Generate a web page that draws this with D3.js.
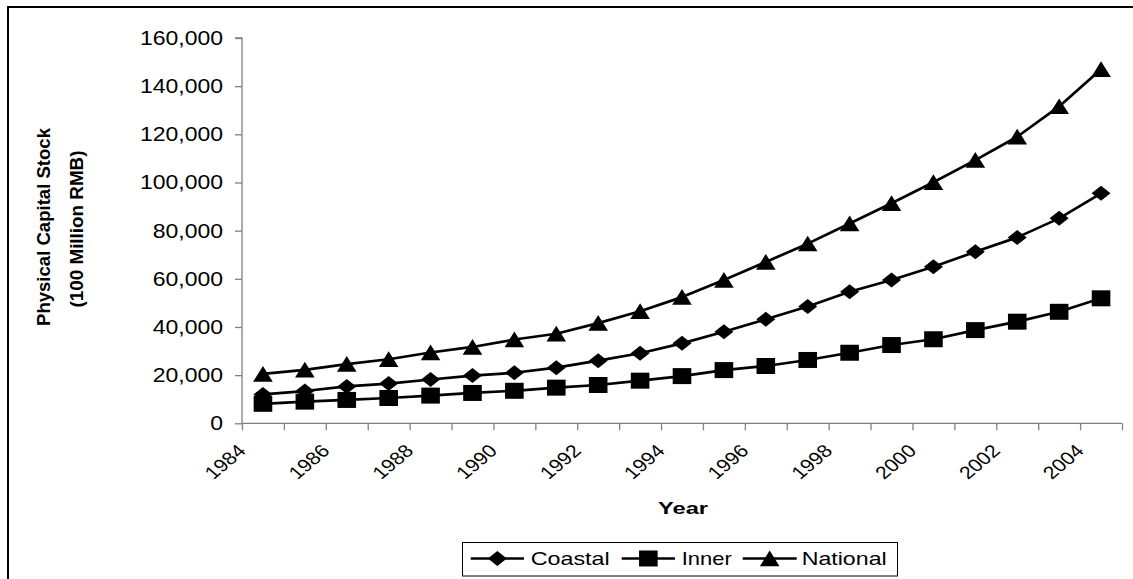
<!DOCTYPE html>
<html>
<head>
<meta charset="utf-8">
<script src="https://cdn.jsdelivr.net/npm/d3@7"></script>
<style>
  html, body { margin: 0; padding: 0; background: #fff; }
  svg { display: block; }
  text { font-family: Arial, "Liberation Sans", sans-serif; fill: #000; }
</style>
</head>
<body>
<svg id="chart" width="1133" height="579"></svg>
<script>
const years = d3.range(1984, 2005);
const yearLabels = ["1984","1986","1988","1990","1992","1994","1996","1998","2000","2002","2004"];
const coastal = [12000, 13400, 15300, 16500, 18200, 19800, 21000, 23100, 26000, 29100, 33200, 38000, 43200, 48500, 54600, 59500, 65000, 71200, 77200, 85100, 95500];
const inner = [8100, 9000, 9700, 10500, 11500, 12600, 13500, 14800, 15900, 17700, 19600, 22100, 23800, 26300, 29300, 32500, 34900, 38700, 42200, 46300, 51900];
const national = [20500, 22200, 24600, 26600, 29400, 31700, 34800, 37200, 41600, 46500, 52400, 59500, 67000, 74600, 83000, 91400, 100100, 109300, 119000, 131600, 147000];
const yTicks = [0, 20000, 40000, 60000, 80000, 100000, 120000, 140000, 160000];
const seriesNames = ["Coastal", "Inner", "National"];
const seriesValues = [coastal, inner, national];

// custom marker shapes (bbox-centred), drawn through d3.symbol
const diamondSym = { draw(ctx) { ctx.moveTo(0, -7.5); ctx.lineTo(9.5, 0); ctx.lineTo(0, 7.5); ctx.lineTo(-9.5, 0); ctx.closePath(); } };
const squareSym = { draw(ctx) { ctx.moveTo(-9.3, -8); ctx.lineTo(9.3, -8); ctx.lineTo(9.3, 8); ctx.lineTo(-9.3, 8); ctx.closePath(); } };
const triangleSym = { draw(ctx) { ctx.moveTo(0, -8); ctx.lineTo(9.8, 7.7); ctx.lineTo(-9.8, 7.7); ctx.closePath(); } };
const seriesSymbols = [diamondSym, squareSym, triangleSym];

const svg = d3.select("#chart");
const L = 242, R = 1122, T = 38, B = 423.3;

// outer border
svg.append("rect").attr("x", 8).attr("y", 7).attr("width", 1150).attr("height", 600)
  .attr("fill", "none").attr("stroke", "#000").attr("stroke-width", 2);

const x = d3.scaleBand().domain(years).range([L, R]).paddingInner(0).paddingOuter(0);
const xEdge = d3.scaleLinear().domain([0, years.length]).range([L, R]);
const y = d3.scaleLinear().domain([0, 160000]).range([B, T]);

// y axis
const yAxis = svg.append("g").attr("transform", `translate(${L},0)`)
  .call(d3.axisLeft(y).tickValues(yTicks).tickSize(7).tickFormat(""));
yAxis.select(".domain").attr("stroke", "#808080").attr("stroke-width", 1.3).attr("d", `M-7,${T}H0V${B}`);
yAxis.selectAll(".tick line").attr("stroke", "#808080").attr("stroke-width", 1.3);

const fmt = d3.format(",");
svg.append("g").selectAll("text").data(yTicks).join("text")
  .attr("text-anchor", "end")
  .attr("font-size", 20)
  .attr("transform", d => `translate(223,${y(d) + 7}) scale(1.15,1)`)
  .text(d => fmt(d));

// x axis
const xAxis = svg.append("g").attr("transform", `translate(0,${B})`)
  .call(d3.axisBottom(xEdge).tickValues(d3.range(years.length + 1)).tickSize(7).tickFormat(""));
xAxis.select(".domain").attr("stroke", "#808080").attr("stroke-width", 1.3).attr("d", `M${L},0H${R}`);
xAxis.selectAll(".tick line").attr("stroke", "#808080").attr("stroke-width", 1.3);

svg.append("g").selectAll("text").data(yearLabels).join("text")
  .attr("text-anchor", "end")
  .attr("font-size", 18)
  .attr("transform", d => `translate(${xEdge(years.indexOf(+d)) + 5},452) scale(1.18,1) rotate(-45)`)
  .text(d => d);

// lines and markers
const cx = i => x(years[i]) + x.bandwidth() / 2;
const line = d3.line().x((d, i) => cx(i)).y(d => y(d));
seriesValues.forEach(vals => {
  svg.append("path").attr("d", line(vals)).attr("fill", "none")
    .attr("stroke", "#000").attr("stroke-width", 2.7).attr("stroke-linejoin", "round");
});
seriesValues.forEach((vals, si) => {
  const sym = d3.symbol().type(seriesSymbols[si]);
  svg.append("g").selectAll("path").data(vals).join("path")
    .attr("d", sym())
    .attr("transform", (d, i) => `translate(${cx(i)},${y(d)})`)
    .attr("fill", "#000");
});

// axis titles
svg.append("text").attr("text-anchor", "middle").attr("font-weight", "bold").attr("font-size", 17)
  .attr("x", 683).attr("y", 513.5).attr("textLength", 50).attr("lengthAdjust", "spacingAndGlyphs")
  .text("Year");

svg.append("text").attr("text-anchor", "middle").attr("font-weight", "bold").attr("font-size", 17.5)
  .attr("transform", "translate(50,227) rotate(-90)")
  .attr("textLength", 198).attr("lengthAdjust", "spacingAndGlyphs")
  .text("Physical Capital Stock");
svg.append("text").attr("text-anchor", "middle").attr("font-weight", "bold").attr("font-size", 17.5)
  .attr("transform", "translate(83,229) rotate(-90)")
  .attr("textLength", 157).attr("lengthAdjust", "spacingAndGlyphs")
  .text("(100 Million RMB)");

// legend
const lg = svg.append("g");
lg.append("rect").attr("x", 462.5).attr("y", 542.5).attr("width", 435).attr("height", 33.5)
  .attr("fill", "#fff").attr("stroke", "#000").attr("stroke-width", 1);
const legendItems = [
  { lx0: 470.7, lx1: 524, tx: 530.7, tl: 79 },
  { lx0: 621.7, lx1: 675, tx: 681.7, tl: 50 },
  { lx0: 742.7, lx1: 796.7, tx: 801.7, tl: 85 }
];
const ly = 558.5;
legendItems.forEach((it, i) => {
  lg.append("line").attr("x1", it.lx0).attr("x2", it.lx1).attr("y1", ly).attr("y2", ly)
    .attr("stroke", "#000").attr("stroke-width", 2.7);
  lg.append("path").attr("d", d3.symbol().type(seriesSymbols[i])())
    .attr("transform", `translate(${(it.lx0 + it.lx1) / 2},${ly})`).attr("fill", "#000");
  lg.append("text").attr("x", it.tx).attr("y", 564.5).attr("font-size", 18.5)
    .attr("textLength", it.tl).attr("lengthAdjust", "spacingAndGlyphs")
    .text(seriesNames[i]);
});
</script>
</body>
</html>
